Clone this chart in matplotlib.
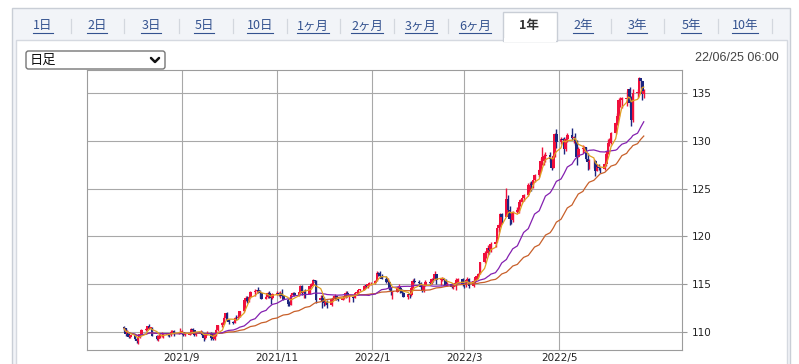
import numpy as np
import pandas as pd
import matplotlib
matplotlib.use("Agg")
import matplotlib.pyplot as plt
import matplotlib.dates as mdates
from matplotlib.patches import Rectangle, FancyBboxPatch

# USD/JPY daily candles, 2021-07-26 .. 2022-06-24 (one row per week)
opens = [
    110.55, 110.38, 109.78, 110.00, 109.47,
    109.70, 109.31, 109.05, 109.48, 109.76,
    110.25, 110.29, 110.58, 110.41, 110.43,
    109.58, 109.24, 109.61, 109.77, 109.77,
    109.78, 109.71, 109.67, 110.03, 110.09,
    109.85, 109.91, 110.01, 110.03, 109.71,
    109.71, 109.84, 110.29, 110.25, 109.72,
    109.90, 110.03, 109.68, 109.38, 109.72,
    109.95, 109.40, 109.22, 109.78, 110.26,
    110.74, 110.98, 111.49, 111.96, 111.29,
    111.05, 110.92, 111.45, 111.43, 111.61,
    112.19, 113.30, 113.60, 113.25, 113.68,
    114.22, 114.34, 114.38, 114.32, 114.04,
    113.48, 113.70, 114.13, 113.78, 113.59,
    114.02, 114.06, 113.96, 114.08, 113.79,
    113.37, 112.92, 112.85, 113.92, 114.13,
    113.87, 114.14, 114.84, 114.12, 114.27,
    114.03, 114.86, 115.06, 115.40, 115.36,
    113.38, 113.52, 113.14, 113.02, 113.17,
    112.81, 113.45, 113.55, 113.75, 113.46,
    113.40, 113.56, 113.71, 114.05, 113.70,
    113.71, 113.61, 114.09, 114.16, 114.41,
    114.41, 114.83, 114.80, 115.00, 115.08,
    115.09, 115.32, 116.14, 116.12, 115.84,
    115.56, 115.20, 115.28, 114.60, 114.20,
    114.21, 114.60, 114.63, 114.34, 114.11,
    113.66, 113.97, 113.84, 114.64, 115.34,
    115.25, 115.12, 114.70, 114.43, 114.96,
    115.24, 115.09, 115.56, 115.51, 116.02,
    115.45, 115.55, 115.59, 115.47, 114.91,
    115.03, 114.72, 115.04, 115.04, 115.49,
    115.54, 114.96, 114.89, 115.47, 115.50,
    114.81, 115.29, 115.73, 115.87, 116.11,
    117.31, 118.22, 118.30, 118.75, 118.59,
    119.17, 119.46, 120.83, 121.17, 122.31,
    122.06, 123.87, 122.80, 121.81, 121.69,
    122.53, 122.75, 123.57, 123.79, 123.97,
    124.33, 125.35, 125.38, 125.37, 125.87,
    126.43, 126.95, 127.94, 128.34, 128.42,
    128.50, 128.14, 127.21, 128.39, 130.75,
    129.84, 130.15, 130.12, 129.12, 130.19,
    130.59, 130.30, 130.41, 129.99, 128.34,
    129.18, 129.20, 129.35, 128.15, 127.78,
    127.86, 127.93, 126.88, 127.30, 127.12,
    127.10, 127.58, 128.67, 129.81, 129.89,
    130.87, 131.88, 132.65, 134.25, 134.37,
    134.40, 134.42, 135.44, 133.97, 132.17,
    135.00, 135.10, 136.62, 136.24, 134.93,
]
highs = [
    110.59, 110.46, 110.20, 110.05, 109.74,
    109.74, 109.35, 109.65, 109.80, 110.36,
    110.44, 110.59, 110.80, 110.53, 110.49,
    109.70, 109.70, 109.90, 110.00, 109.95,
    109.90, 109.76, 110.20, 110.19, 110.18,
    110.04, 110.44, 110.25, 110.05, 110.05,
    109.92, 110.45, 110.37, 110.25, 110.02,
    110.16, 110.14, 109.80, 109.80, 110.08,
    110.00, 109.62, 109.90, 110.28, 110.78,
    111.09, 111.68, 112.00, 112.08, 111.40,
    111.12, 111.55, 111.80, 111.80, 112.25,
    113.40, 113.80, 113.75, 113.70, 114.26,
    114.45, 114.42, 114.69, 114.36, 114.15,
    113.90, 114.20, 114.25, 113.88, 114.05,
    114.30, 114.15, 114.30, 114.45, 113.89,
    113.61, 113.24, 114.10, 114.20, 114.20,
    114.21, 114.97, 114.95, 114.39, 114.52,
    114.97, 115.17, 115.52, 115.38, 115.40,
    113.88, 113.86, 113.70, 113.47, 113.40,
    113.54, 113.80, 113.95, 113.75, 113.60,
    113.64, 113.81, 114.26, 114.25, 113.90,
    113.77, 114.15, 114.28, 114.43, 114.45,
    114.90, 114.95, 115.02, 115.20, 115.20,
    115.43, 116.35, 116.28, 116.35, 116.05,
    115.85, 115.60, 115.35, 114.76, 114.30,
    114.75, 115.05, 114.80, 114.50, 114.20,
    114.00, 114.05, 114.70, 115.50, 115.68,
    115.42, 115.20, 114.80, 115.00, 115.40,
    115.35, 115.60, 115.67, 116.34, 116.10,
    115.68, 115.80, 115.65, 115.50, 115.20,
    115.10, 115.10, 115.25, 115.70, 115.60,
    115.60, 115.10, 115.55, 115.80, 115.60,
    115.50, 115.80, 115.95, 116.20, 117.35,
    118.45, 118.45, 119.10, 118.90, 119.40,
    119.60, 120.90, 121.40, 122.40, 122.44,
    125.09, 124.30, 123.15, 122.40, 122.70,
    123.10, 123.60, 123.90, 124.05, 124.40,
    125.60, 125.70, 125.80, 125.90, 126.55,
    127.05, 128.25, 129.40, 128.60, 128.80,
    128.85, 128.20, 128.55, 130.85, 131.25,
    130.35, 130.25, 130.35, 130.40, 130.80,
    131.35, 130.50, 130.80, 130.10, 129.40,
    129.60, 129.45, 129.40, 128.70, 128.10,
    128.15, 128.00, 127.55, 127.60, 127.30,
    127.80, 128.90, 130.15, 130.30, 130.95,
    131.95, 132.95, 134.50, 134.55, 134.60,
    135.20, 135.30, 135.60, 134.70, 135.40,
    135.45, 136.71, 136.40, 136.30, 135.40,
]
lows = [
    110.13, 109.59, 109.66, 109.40, 109.36,
    109.20, 108.90, 108.72, 109.40, 109.72,
    110.13, 110.19, 110.35, 110.25, 109.55,
    109.12, 109.11, 109.40, 109.50, 109.40,
    109.60, 109.52, 109.60, 109.90, 109.59,
    109.75, 109.85, 109.85, 109.60, 109.59,
    109.65, 109.79, 110.00, 109.60, 109.57,
    109.83, 109.55, 109.11, 109.30, 109.68,
    109.12, 109.12, 109.19, 109.63, 110.12,
    110.55, 110.79, 111.27, 111.20, 110.80,
    110.82, 110.90, 111.26, 111.34, 111.60,
    112.12, 113.21, 113.05, 113.18, 113.60,
    113.81, 114.08, 114.08, 113.60, 113.41,
    113.41, 113.60, 113.60, 112.90, 113.42,
    113.89, 113.78, 113.56, 113.69, 113.30,
    112.73, 112.72, 112.80, 113.77, 113.80,
    113.79, 114.00, 113.90, 113.59, 113.58,
    113.99, 114.71, 114.97, 115.22, 113.05,
    113.28, 112.53, 112.70, 112.82, 112.54,
    112.70, 113.30, 113.40, 113.30, 113.20,
    113.30, 113.45, 113.60, 113.66, 113.14,
    113.15, 113.56, 113.90, 114.02, 114.28,
    114.40, 114.65, 114.62, 114.81, 114.93,
    115.00, 115.30, 115.85, 115.70, 115.50,
    115.10, 115.05, 114.40, 113.90, 113.48,
    114.15, 114.42, 114.10, 113.95, 113.62,
    113.46, 113.60, 113.80, 114.60, 115.08,
    114.92, 114.60, 114.20, 114.15, 114.80,
    114.90, 115.00, 115.20, 115.40, 115.02,
    114.95, 115.30, 115.30, 114.85, 114.80,
    114.60, 114.55, 114.85, 114.41, 115.20,
    114.80, 114.64, 114.70, 115.35, 114.65,
    114.70, 115.15, 115.50, 115.75, 116.05,
    117.20, 117.70, 118.10, 118.15, 118.40,
    118.90, 119.40, 120.50, 121.00, 121.40,
    122.10, 122.40, 121.20, 121.30, 121.50,
    122.40, 122.50, 123.20, 123.60, 123.70,
    124.20, 124.90, 124.80, 125.10, 125.70,
    126.25, 126.80, 127.50, 127.50, 127.80,
    127.75, 126.95, 127.20, 128.30, 129.30,
    129.70, 129.80, 128.60, 128.90, 129.90,
    130.10, 129.80, 129.60, 127.50, 128.30,
    128.70, 128.90, 128.00, 127.00, 127.05,
    127.20, 126.36, 126.80, 126.90, 126.60,
    126.90, 127.40, 128.60, 129.50, 129.70,
    130.70, 131.70, 132.60, 133.50, 133.40,
    133.60, 134.20, 133.50, 131.50, 131.95,
    134.50, 134.90, 135.50, 134.30, 134.50,
]
closes = [
    110.38, 109.78, 110.00, 109.47, 109.70,
    109.31, 109.05, 109.48, 109.76, 110.25,
    110.29, 110.58, 110.41, 110.43, 109.58,
    109.24, 109.61, 109.77, 109.77, 109.78,
    109.71, 109.67, 110.03, 110.09, 109.85,
    109.91, 110.01, 110.03, 109.71, 109.71,
    109.84, 110.29, 110.25, 109.72, 109.90,
    110.03, 109.68, 109.38, 109.72, 109.95,
    109.40, 109.22, 109.78, 110.26, 110.74,
    110.98, 111.49, 111.96, 111.29, 111.05,
    110.92, 111.45, 111.43, 111.61, 112.19,
    113.30, 113.60, 113.25, 113.68, 114.22,
    114.34, 114.38, 114.32, 114.04, 113.48,
    113.70, 114.13, 113.78, 113.59, 114.02,
    114.06, 113.96, 114.08, 113.79, 113.37,
    112.92, 112.85, 113.92, 114.13, 113.87,
    114.14, 114.84, 114.12, 114.27, 114.03,
    114.86, 115.06, 115.40, 115.36, 113.38,
    113.52, 113.14, 113.02, 113.17, 112.81,
    113.45, 113.55, 113.75, 113.46, 113.40,
    113.56, 113.71, 114.05, 113.70, 113.71,
    113.61, 114.09, 114.16, 114.41, 114.41,
    114.83, 114.80, 115.00, 115.08, 115.09,
    115.32, 116.14, 116.12, 115.84, 115.56,
    115.20, 115.28, 114.60, 114.20, 114.21,
    114.60, 114.63, 114.34, 114.11, 113.66,
    113.97, 113.84, 114.64, 115.34, 115.25,
    115.12, 114.70, 114.43, 114.96, 115.24,
    115.09, 115.56, 115.51, 116.02, 115.45,
    115.55, 115.59, 115.47, 114.91, 115.03,
    114.72, 115.04, 115.04, 115.49, 115.54,
    114.96, 114.89, 115.47, 115.50, 114.81,
    115.29, 115.73, 115.87, 116.11, 117.31,
    118.22, 118.30, 118.75, 118.59, 119.17,
    119.46, 120.83, 121.17, 122.31, 122.06,
    123.87, 122.80, 121.81, 121.69, 122.53,
    122.75, 123.57, 123.79, 123.97, 124.33,
    125.35, 125.38, 125.37, 125.87, 126.43,
    126.95, 127.94, 128.34, 128.42, 128.50,
    128.14, 127.21, 128.39, 130.75, 129.84,
    130.15, 130.12, 129.12, 130.19, 130.59,
    130.30, 130.41, 129.99, 128.34, 129.18,
    129.20, 129.35, 128.15, 127.78, 127.86,
    127.93, 126.88, 127.30, 127.12, 127.10,
    127.58, 128.67, 129.81, 129.89, 130.87,
    131.88, 132.65, 134.25, 134.37, 134.40,
    134.42, 135.44, 133.97, 132.17, 135.00,
    135.10, 136.62, 136.24, 134.93, 135.22,
]

dates = pd.bdate_range("2021-07-26", "2022-06-24")
df = pd.DataFrame({"open": opens, "high": highs, "low": lows, "close": closes},
                  index=dates)

ma_periods = [5, 25, 50]
ma_colors = ["#e0a020", "#8420b0", "#c8602a"]

month_ticks = ["2021-09-01", "2021-11-01", "2022-01-01", "2022-03-01", "2022-05-01"]
month_labels = ["2021/9", "2021/11", "2022/1", "2022/3", "2022/5"]
price_ticks = [110, 115, 120, 125, 130, 135]

tabs = ["1日", "2日", "3日", "5日", "10日", "1ヶ月", "2ヶ月", "3ヶ月", "6ヶ月",
        "1年", "2年", "3年", "5年", "10年"]
active_tab = "1年"
stamp = "22/06/25 06:00"
period_label = "日足"

W, H = 799, 364
JP = ["Noto Sans CJK JP", "DejaVu Sans"]

fig = plt.figure(figsize=(W / 100, H / 100), dpi=100)

# ---- page chrome (pixel coordinates, y downwards) ----
bg = fig.add_axes([0, 0, 1, 1], zorder=0)
bg.set_xlim(0, W)
bg.set_ylim(H, 0)
bg.axis("off")

bg.add_patch(Rectangle((12, 8), 778, 370, fc="#f2f4f8", ec="#c9ced6", lw=1))
bg.add_patch(Rectangle((16, 40), 771, 340, fc="white", ec="#d5d9e0", lw=1))
bg.add_patch(Rectangle((503, 12), 54, 29, fc="white", ec="#c9ced6", lw=1))
bg.add_patch(Rectangle((504, 38), 52, 4, fc="white", ec="none"))

tab_x = [43, 97, 151, 204, 260, 313, 367, 421, 475, 529, 583, 637, 691, 745]
for sx in [71, 124, 179, 233, 287, 340, 394, 448, 611, 664, 718, 772]:
    bg.plot([sx, sx], [19, 33], color="#d3d7de", lw=0.9)

fig.canvas.draw()
renderer = fig.canvas.get_renderer()
inv = bg.transData.inverted()
for label, tx in zip(tabs, tab_x):
    if label == active_tab:
        bg.text(tx, 26, label, ha="center", va="center", fontsize=9,
                fontweight="bold", color="#333333", family=JP)
        continue
    t = bg.text(tx, 26, label, ha="center", va="center", fontsize=9,
                color="#34528f", family=JP)
    bb = t.get_window_extent(renderer)
    (x0, _), (x1, _) = inv.transform([(bb.x0, 0), (bb.x1, 0)])
    bg.plot([x0, x1], [32.5, 32.5], color="#34528f", lw=0.8)

bg.text(779, 58, stamp, ha="right", va="center", fontsize=9,
        color="#444444", family="Liberation Sans")

bg.add_patch(FancyBboxPatch((26, 51), 139, 18,
                            boxstyle="round,pad=0,rounding_size=2.5",
                            fc="white", ec="#767676", lw=1))
bg.text(30, 60.5, period_label, ha="left", va="center", fontsize=9.5,
        color="#111111", family=JP)
bg.plot([151, 155, 159], [58, 62, 58], color="#111111", lw=1.8,
        solid_capstyle="round", solid_joinstyle="round")

# ---- price chart ----
ax = fig.add_axes([87 / W, 14 / H, 595 / W, 280 / H], zorder=1)
ax.set_facecolor("white")

x = mdates.date2num(df.index.to_pydatetime())
up = df["close"] >= df["open"]
cols = np.where(up, "#f0103c", "#1c2680")

ax.vlines(x, df["low"], df["high"], colors=cols, lw=1.0, zorder=3)
body = (df["close"] - df["open"]).abs().clip(lower=0.08)
ax.bar(x, body, bottom=df[["open", "close"]].min(axis=1), width=1.7,
       color=cols, linewidth=0, zorder=3)

for p, c in zip(ma_periods[::-1], ma_colors[::-1]):
    ma = df["close"].rolling(p, min_periods=1).mean()
    ax.plot(x, ma, color=c, lw=0.9, zorder=4)

ax.set_xlim(mdates.date2num(pd.Timestamp("2021-07-02 06:00")),
            mdates.date2num(pd.Timestamp("2022-07-18 12:00")))
ax.set_ylim(108.12, 137.41)

ax.set_xticks(mdates.date2num(pd.to_datetime(month_ticks).to_pydatetime()))
ax.set_xticklabels(month_labels)
ax.set_yticks(price_ticks)
ax.yaxis.tick_right()
ax.tick_params(axis="x", length=0, pad=2.5, labelsize=7.5, labelcolor="#222222")
ax.tick_params(axis="y", length=3.6, width=0.8, color="#999999", pad=3.6,
               labelsize=7.5, labelcolor="#222222")
ax.grid(True, color="#a8a8a8", lw=0.8)
ax.set_axisbelow(True)
for s in ax.spines.values():
    s.set_color("#9c9c9c")
    s.set_linewidth(0.8)

fig.savefig("out.png", dpi=100)
